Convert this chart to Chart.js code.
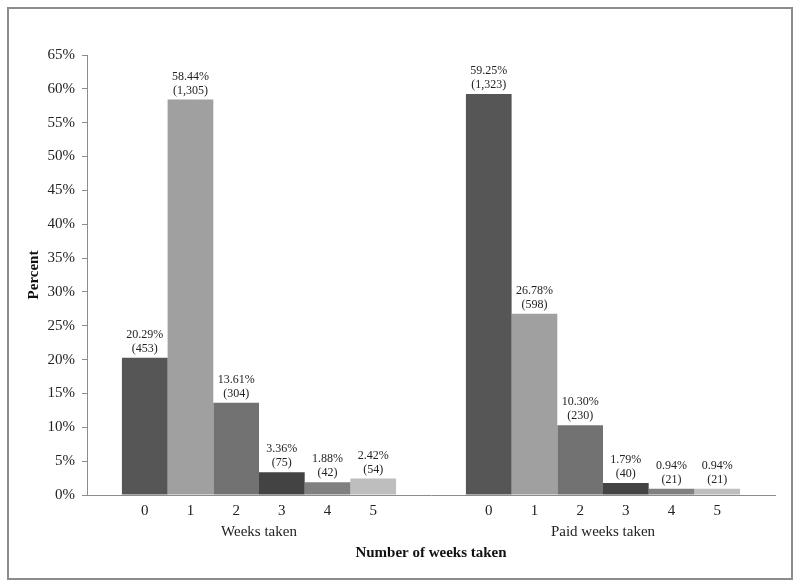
<!DOCTYPE html>
<html>
<head>
<meta charset="utf-8">
<script src="https://cdn.jsdelivr.net/npm/chart.js@4"></script>
<style>
  body { margin: 0; background: #fff; }
  #wrap { position: relative; width: 800px; height: 588px; }
  #frame { position: absolute; left: 7px; top: 7px; width: 782px; height: 569px; border: 2px solid #8c8c8c; pointer-events: none; }
  canvas { position: absolute; left: 0; top: 0; }
</style>
</head>
<body>
<div id="wrap">
  <canvas id="myChart" width="800" height="588"></canvas>
  <div id="frame"></div>
</div>
<script>
// groups on the x axis
var groups = ["Weeks taken", "Paid weeks taken"];
// number of weeks (one bar per value inside each group)
var weekLabels = ["0", "1", "2", "3", "4", "5"];
// percent per week value, [weeks taken, paid weeks taken]
var pctWeeks = [20.29, 58.44, 13.61, 3.36, 1.88, 2.42];
var pctPaid = [59.25, 26.78, 10.30, 1.79, 0.94, 0.94];
// counts shown in brackets
var nWeeks = [453, 1305, 304, 75, 42, 54];
var nPaid = [1323, 598, 230, 40, 21, 21];
var yTicks = [0, 5, 10, 15, 20, 25, 30, 35, 40, 45, 50, 55, 60, 65];

var barColors = ["#565656", "#a0a0a0", "#727272", "#434343", "#808080", "#bebebe"];
var serif = "'Liberation Serif', 'Times New Roman', serif";

var datasets = weekLabels.map(function (w, i) {
  return {
    label: w,
    data: [pctWeeks[i], pctPaid[i]],
    counts: [nWeeks[i], nPaid[i]],
    backgroundColor: barColors[i],
    borderWidth: 0,
    categoryPercentage: 0.797,
    barPercentage: 1
  };
});

// value labels above bars and week numbers under them
var barText = {
  id: "barText",
  afterDatasetsDraw: function (chart) {
    var ctx = chart.ctx;
    var bottom = chart.chartArea.bottom;
    ctx.save();
    ctx.textAlign = "center";
    ctx.textBaseline = "middle";
    chart.data.datasets.forEach(function (ds, i) {
      var meta = chart.getDatasetMeta(i);
      meta.data.forEach(function (bar, j) {
        ctx.fillStyle = "#222";
        ctx.font = "12px " + serif;
        ctx.fillText(ds.data[j].toFixed(2) + "%", bar.x, bar.y - 23);
        ctx.fillText("(" + ds.counts[j].toLocaleString("en-US") + ")", bar.x, bar.y - 9);
        ctx.font = "15px " + serif;
        ctx.fillText(ds.label, bar.x, bottom + 16);
      });
    });
    ctx.restore();
  }
};

new Chart("myChart", {
  type: "bar",
  data: { labels: groups, datasets: datasets },
  plugins: [barText],
  options: {
    responsive: false,
    animation: false,
    layout: { padding: { top: 55, right: 25, left: 8, bottom: 0 } },
    plugins: { legend: { display: false }, tooltip: { enabled: false } },
    scales: {
      x: {
        grid: { display: false, drawTicks: false },
        border: { display: true, color: "#8c8c8c", width: 1 },
        ticks: { color: "#222", padding: 28, font: { family: serif, size: 15 } },
        title: {
          display: true,
          text: "Number of weeks taken",
          color: "#111",
          padding: { top: 0, bottom: 26 },
          font: { family: serif, size: 15, weight: "bold" }
        },
        afterFit: function (scale) { scale.height = 93; }
      },
      y: {
        min: 0,
        max: 65,
        afterBuildTicks: function (scale) {
          scale.ticks = yTicks.map(function (v) { return { value: v }; });
        },
        grid: { drawOnChartArea: false, drawTicks: true, tickLength: 5, color: "#8c8c8c" },
        border: { display: true, color: "#8c8c8c", width: 1 },
        ticks: {
          color: "#222",
          padding: 7,
          font: { family: serif, size: 15 },
          callback: function (v) { return v + "%"; }
        },
        title: {
          display: true,
          text: "Percent",
          color: "#111",
          padding: { top: 17, bottom: 0 },
          font: { family: serif, size: 15, weight: "bold" }
        },
        afterFit: function (scale) { scale.width = 79; }
      }
    }
  }
});
</script>
</body>
</html>
